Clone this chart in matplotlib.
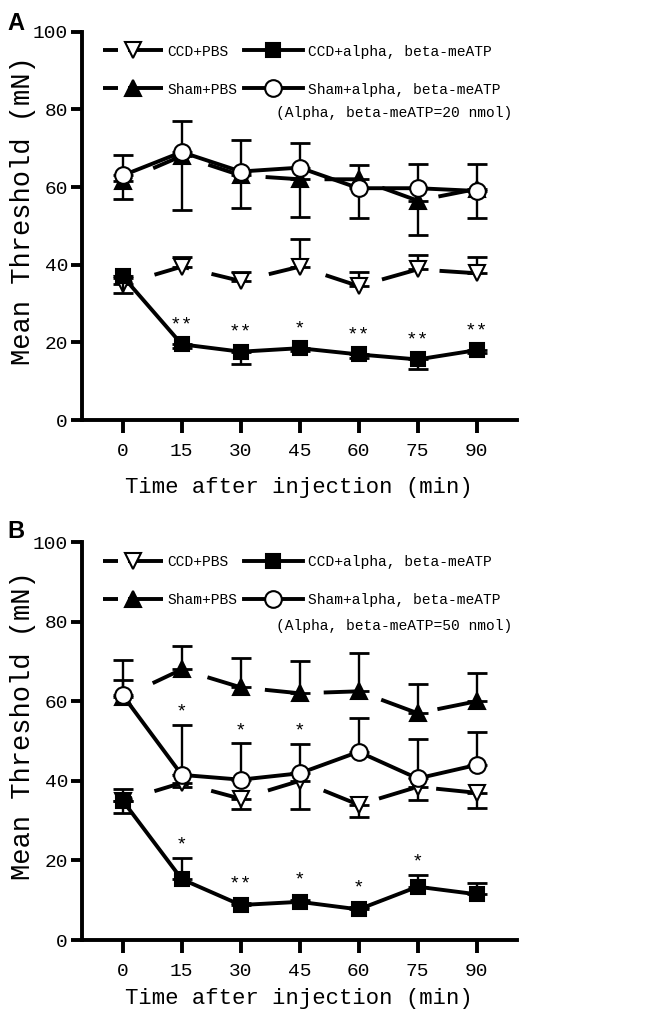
import matplotlib
matplotlib.use('Agg')
import matplotlib.pyplot as plt
from matplotlib.lines import Line2D

plt.rcParams['font.family'] = ['Liberation Mono', 'DejaVu Sans']
plt.rcParams['lines.scale_dashes'] = False

time_min = [0, 15, 30, 45, 60, 75, 90]
x_ticks = [0, 15, 30, 45, 60, 75, 90]
y_ticks = [0, 20, 40, 60, 80, 100]
labels = ['CCD+PBS', 'Sham+PBS', 'CCD+alpha, beta-meATP', 'Sham+alpha, beta-meATP']

# Panel A  (alpha,beta-meATP = 20 nmol)
a_ccd_pbs = [35, 39.5, 35.8, 39.5, 34.5, 38.8, 37.8]
a_ccd_pbs_err_up = [1.5, 2.5, 2.4, 7.2, 3.5, 3.7, 4.2]
a_ccd_atp = [37, 19.5, 17.6, 18.5, 16.9, 15.6, 18]
a_ccd_atp_err_lo = [4.2, 1.0, 3.2, 0.8, 0.8, 2.5, 0.8]
a_sham_pbs = [61.5, 68, 63, 62, 62, 56.5, 59.5]
a_sham_pbs_err_lo = [4.5, 14, 8.4, 9.6, 10, 8.8, 7.5]
a_sham_atp = [63, 69, 64, 65, 59.7, 59.7, 59]
a_sham_atp_err_up = [5.3, 8, 8.2, 6.3, 6, 6.3, 7]
a_ccd_atp_stars = ['', '**', '**', '*', '**', '**', '**']
a_note = '(Alpha, beta-meATP=20 nmol)'

# Panel B  (alpha,beta-meATP = 50 nmol)
b_ccd_pbs = [35, 39.5, 35.5, 40, 34, 38.5, 37]
b_ccd_pbs_err_lo = [3, 1.0, 2.6, 7, 3, 3.3, 3.8]
b_ccd_atp = [35, 15.3, 8.8, 9.6, 7.7, 13.4, 11.5]
b_ccd_atp_err_up = [3, 5.4, 0.5, 0.5, 0.5, 3, 2.8]
b_sham_pbs = [61, 68, 63.5, 62, 62.5, 57, 60]
b_sham_pbs_err_up = [4.3, 6, 7.4, 8.1, 9.7, 7.4, 7.2]
b_sham_atp = [61.5, 41.5, 40.3, 41.9, 47.3, 40.6, 44]
b_sham_atp_err_up = [8.8, 12.6, 9.2, 7.4, 8.4, 9.8, 8.4]
b_ccd_atp_stars = ['', '*', '**', '*', '*', '*', '']
b_sham_atp_stars = ['', '*', '*', '*', '', '', '']
b_note = '(Alpha, beta-meATP=50 nmol)'

zeros = [0] * len(time_min)

LW = 2.8
DASH = (18.7, (25.9, 16.6))
DASH_LEG = (0, (10.8, 7.2, 40, 5))

fig = plt.figure(figsize=(6.45, 10.23), dpi=100)


def series(ax, y, lo, up, marker, mfc, ls, ms, z):
    ax.errorbar(time_min, y, yerr=[lo, up], fmt='none', ecolor='k',
                elinewidth=1.7, capsize=7, capthick=2, zorder=z)
    ax.plot(time_min, y, color='k', lw=LW, ls=ls, marker=marker, ms=ms,
            mfc=mfc, mec='k', mew=1.5, zorder=z + 0.5)


def stars(ax, y, up, marks):
    for xi, yi, ui, s in zip(time_min, y, up, marks):
        if s:
            off = 14 if ui < 1 else 9
            ax.annotate(s, xy=(xi, yi + ui), xytext=(0, off), textcoords='offset points',
                        ha='center', va='center', fontsize=14, zorder=10)


def setup(ax, note, letter, fig_y, xlabelpad):
    ax.set_xlim(-10.4, 100.2)
    ax.set_ylim(0, 100)
    ax.set_xticks(x_ticks)
    ax.set_yticks(y_ticks)
    for s in ['top', 'right']:
        ax.spines[s].set_visible(False)
    for s in ['left', 'bottom']:
        ax.spines[s].set_linewidth(LW)
    ax.tick_params(axis='y', width=LW, length=8, labelsize=14, pad=2)
    ax.tick_params(axis='x', width=LW, length=9.5, labelsize=14, pad=7)
    ax.set_xlabel('Time after injection (min)', fontsize=16, labelpad=xlabelpad)
    ax.set_ylabel('Mean Threshold (mN)', fontsize=19.5)
    ax.yaxis.set_label_coords(-0.106, 0.54)
    h = [
        Line2D([], [], color='k', lw=LW, ls=DASH_LEG, marker='v', ms=12, mfc='white', mew=1.5),
        Line2D([], [], color='k', lw=LW, ls=DASH_LEG, marker='^', ms=12, mfc='k', mew=1.5),
        Line2D([], [], color='k', lw=LW, ls='-', marker='s', ms=9.5, mfc='k', mew=1.5),
        Line2D([], [], color='k', lw=LW, ls='-', marker='o', ms=12, mfc='white', mew=1.5),
    ]
    ax.legend(h, labels, ncol=2, loc='upper left', bbox_to_anchor=(0.048, 0.967),
              frameon=False, fontsize=10.5, handlelength=4.1, handletextpad=0.35,
              columnspacing=0.4, labelspacing=1.65, borderpad=0, borderaxespad=0,
              numpoints=1)
    ax.text(0.989, 0.79, note, transform=ax.transAxes, ha='right', va='center',
            fontsize=10.5)
    fig.text(0.011, fig_y, letter, fontsize=17, fontweight='bold',
             family='Liberation Sans', ha='left', va='center')


# Panel A
axA = fig.add_axes([0.127, 0.5894, 0.674, 0.3796])
series(axA, a_ccd_pbs, zeros, a_ccd_pbs_err_up, 'v', 'white', DASH, 12, 2)
series(axA, a_sham_pbs, a_sham_pbs_err_lo, zeros, '^', 'k', DASH, 12, 2)
series(axA, a_ccd_atp, a_ccd_atp_err_lo, zeros, 's', 'k', '-', 9.5, 4)
series(axA, a_sham_atp, zeros, a_sham_atp_err_up, 'o', 'white', '-', 12, 4)
stars(axA, a_ccd_atp, zeros, a_ccd_atp_stars)
setup(axA, a_note, 'A', 1 - 23 / 1023, 12)

# Panel B
axB = fig.add_axes([0.127, 0.0811, 0.674, 0.389])
series(axB, b_ccd_pbs, b_ccd_pbs_err_lo, zeros, 'v', 'white', DASH, 12, 2)
series(axB, b_sham_pbs, zeros, b_sham_pbs_err_up, '^', 'k', DASH, 12, 2)
series(axB, b_ccd_atp, zeros, b_ccd_atp_err_up, 's', 'k', '-', 9.5, 4)
series(axB, b_sham_atp, zeros, b_sham_atp_err_up, 'o', 'white', '-', 12, 4)
stars(axB, b_ccd_atp, b_ccd_atp_err_up, b_ccd_atp_stars)
stars(axB, b_sham_atp, b_sham_atp_err_up, b_sham_atp_stars)
setup(axB, b_note, 'B', 1 - 532 / 1023, 6)

fig.savefig('out.png', dpi=100)
